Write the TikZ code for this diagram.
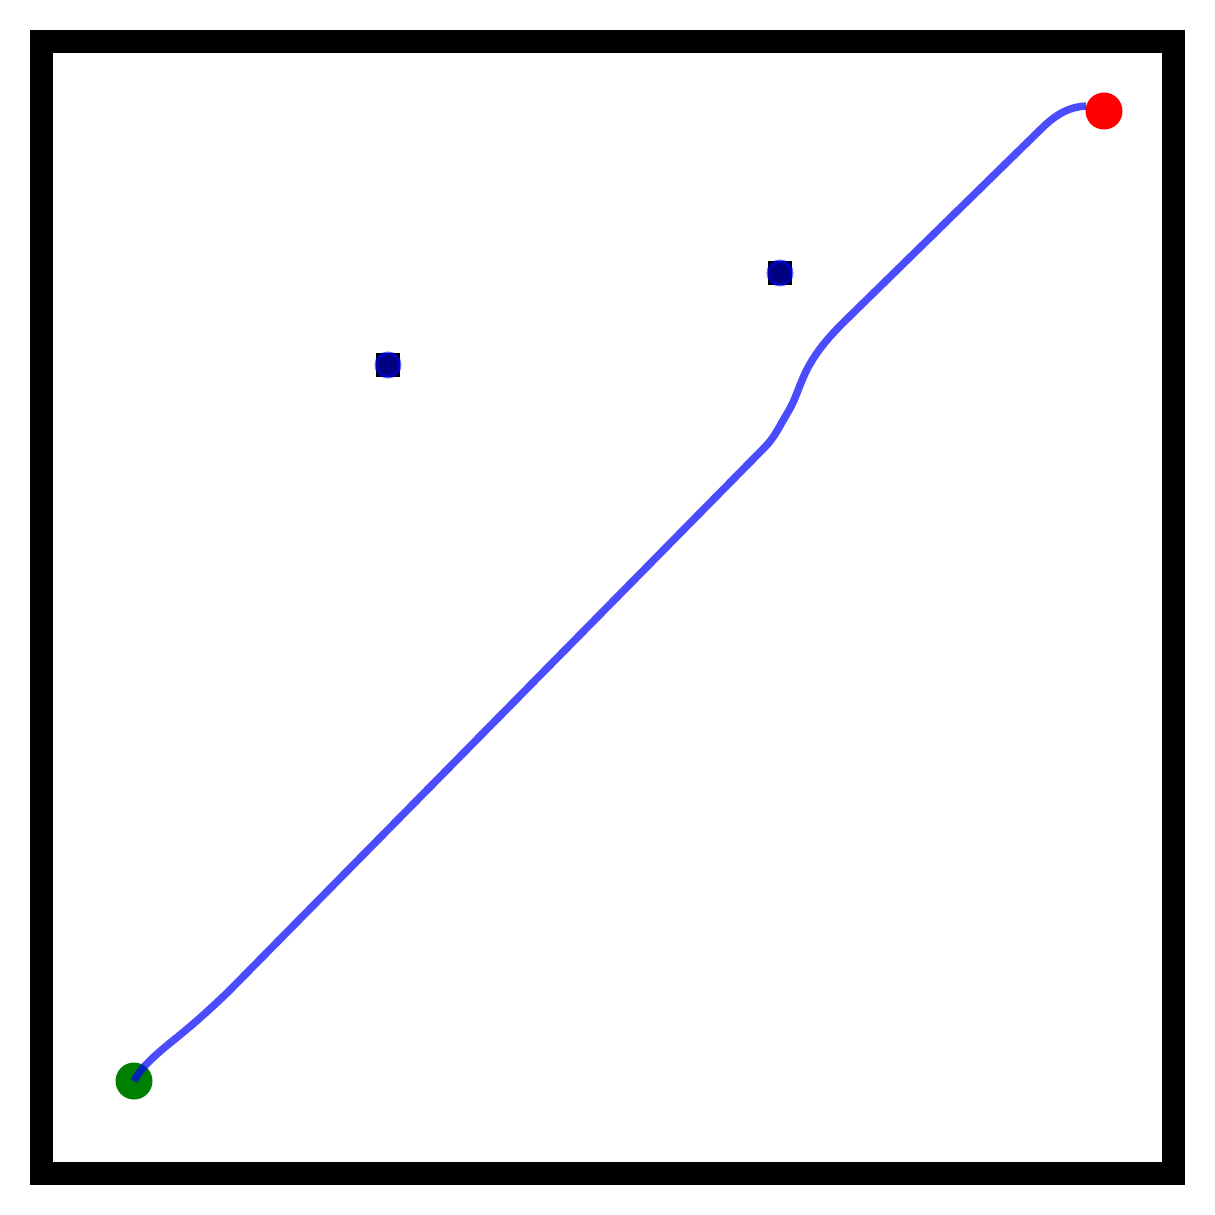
\documentclass[tikz,border=0pt]{standalone}
\begin{document}
\begin{tikzpicture}[x=1pt,y=-1pt,
  frame/.style={draw=black,line width=23pt},
  obst/.style={fill=black,minimum size=24pt,inner sep=0pt,draw=none},
  halo/.style={circle,fill=blue,fill opacity=0.5,draw=blue,draw opacity=0.6,line width=3pt,minimum size=24pt,inner sep=0pt},
  startpt/.style={circle,fill=green!50!black,minimum size=37pt,inner sep=0pt},
  goalpt/.style={circle,fill=red,minimum size=37pt,inner sep=0pt},
  route/.style={draw=blue,draw opacity=0.7,line width=7.5pt}]
\useasboundingbox (0,0) rectangle (1215,1215);
\draw[frame] (41.5,41.5) rectangle (1173.5,1173.5);
\node[obst] (o1) at (388,365) {};
\node[halo] (h1) at (o1) {};
\node[obst] (o2) at (780,273) {};
\node[halo] (h2) at (o2) {};
\node[startpt] (start) at (134,1081) {};
\node[goalpt] (goal) at (1104,111) {};
\draw[route] (start.center) .. controls (140,1070) and (148,1061) .. (170,1043)
  .. controls (190,1027) and (205,1014) .. (228,992)
  -- (765,447) .. controls (775,437) and (780,425) .. (788,412)
  .. controls (795,400) and (797,392) .. (803,378)
  .. controls (812,357) and (825,340) .. (850,316)
  -- (1040,130) .. controls (1055,115) and (1068,107) .. (1086,106);
\end{tikzpicture}
\end{document}
